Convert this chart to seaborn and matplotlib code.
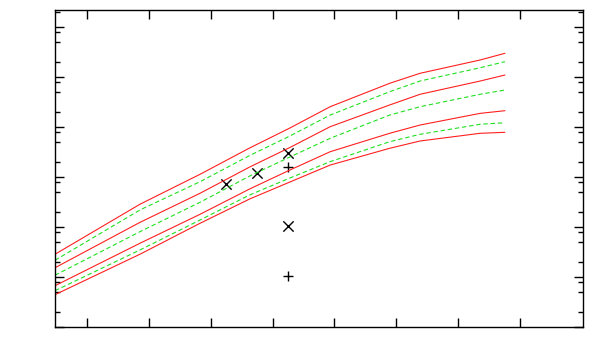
import numpy as np
import pandas as pd
import seaborn as sns
import matplotlib
matplotlib.use("Agg")
import matplotlib.pyplot as plt
from matplotlib.ticker import FixedLocator, LogLocator, NullFormatter

x_pts = [0.49, 1.86, 2.83, 3.63, 4.28, 4.93, 5.89, 6.38, 7.35, 7.75]

# red solid curves (top to bottom)
red_1 = [28.1, 281, 1117, 3750, 9420, 25100, 73800, 117000, 216000, 294000]
red_2 = [15.1, 122, 466, 1560, 3840, 10000, 27200, 44500, 82000, 108000]
red_3 = [6.6, 46.6, 177, 568, 1360, 3160, 7380, 10800, 18500, 20900]
red_4 = [4.37, 28.1, 117, 358, 783, 1710, 3700, 5180, 7380, 7730]

# green dashed curves (top to bottom)
green_1 = [21.3, 216, 794, 2650, 6520, 17100, 50100, 82000, 151000, 200000]
green_2 = [10.7, 79.4, 308, 1030, 2480, 5860, 17100, 25100, 44500, 54200]
green_3 = [5.25, 34.2, 136, 431, 942, 2000, 5010, 7050, 11200, 12000]

# single points
cross_x = [3.25, 3.75, 4.25, 4.25]
cross_y = [705, 1170, 2940, 103]
plus_x = [4.25, 4.25]
plus_y = [1540, 10.3]

sns.set_style("white")

fig = plt.figure(figsize=(6, 3.6), dpi=100)
ax = fig.add_axes([55 / 600, 1 - 326.7 / 360, 528 / 600, 316.4 / 360])
ax.set_yscale("log")

for ys in [red_1, red_2, red_3, red_4]:
    sns.lineplot(x=x_pts, y=ys, color="#ff2020", linewidth=0.8, ax=ax)
for ys in [green_1, green_2, green_3]:
    sns.lineplot(x=x_pts, y=ys, color="#20e020", linewidth=0.8,
                 linestyle=(0, (4, 2.5)), ax=ax)

sns.scatterplot(x=cross_x, y=cross_y, marker="x", color="black", s=55,
                linewidth=1.0, ax=ax)
sns.scatterplot(x=plus_x, y=plus_y, marker="+", color="black", s=55,
                linewidth=1.0, ax=ax)

ax.set_xlim(0.49, 9.01)
ax.set_ylim(1, 2.13e6)

ax.xaxis.set_major_locator(FixedLocator(range(1, 9)))
ax.yaxis.set_major_locator(LogLocator(base=10, numticks=20))
ax.yaxis.set_minor_locator(LogLocator(base=10, subs=[2, 5, 8], numticks=20))
ax.xaxis.set_major_formatter(NullFormatter())
ax.yaxis.set_major_formatter(NullFormatter())
ax.yaxis.set_minor_formatter(NullFormatter())
ax.tick_params(which="both", direction="in", top=True, right=True,
               bottom=True, left=True, color="black", width=1.0)
ax.tick_params(which="major", length=6.5)
ax.tick_params(which="minor", length=3.6)
ax.tick_params(axis="x", which="minor", length=0)

for sp in ax.spines.values():
    sp.set_color("black")
    sp.set_linewidth(1.0)

fig.savefig("out.png", dpi=100, facecolor="white")
